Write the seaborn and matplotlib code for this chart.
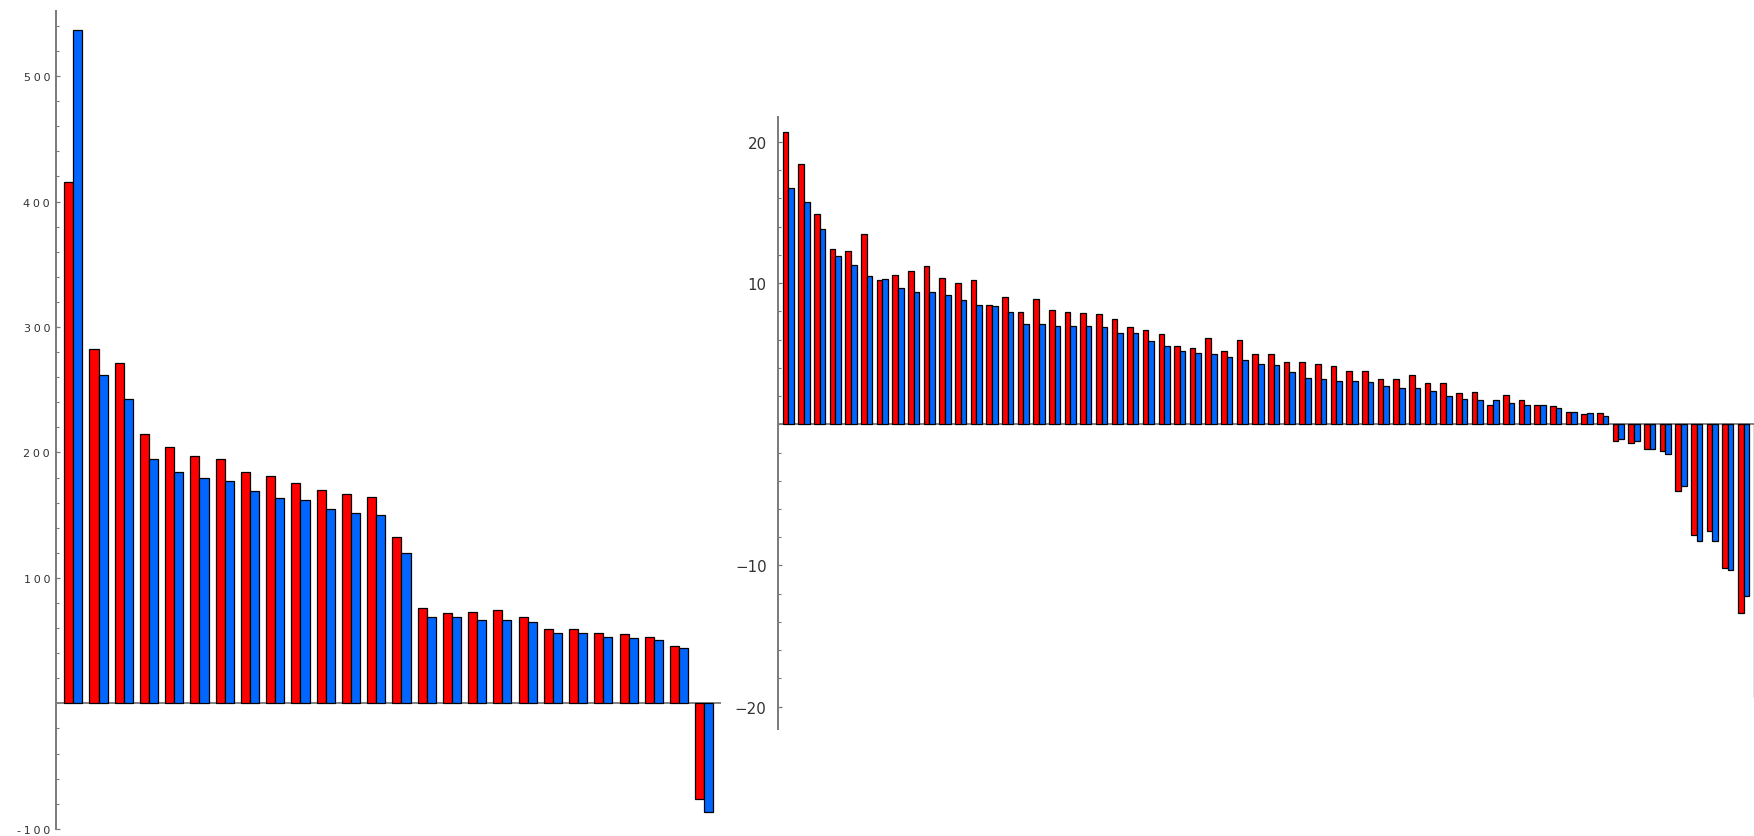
import matplotlib
matplotlib.use("Agg")
import matplotlib.pyplot as plt
from matplotlib.ticker import MultipleLocator, FixedLocator, FuncFormatter
import seaborn as sns
import pandas as pd

# ---------------- data ----------------
left_red = [415.5, 282.7, 271.0, 214.4, 204.3, 197.1, 194.7, 184.6, 180.9, 175.9,
            169.8, 166.6, 164.7, 132.3, 75.8, 72.2, 72.5, 74.1, 68.6, 59.2,
            59.4, 55.9, 55.0, 52.9, 45.4, -76.3]
left_blue = [536.7, 261.5, 242.3, 194.5, 184.1, 179.4, 177.2, 169.5, 163.4, 161.8,
             154.9, 151.9, 150.3, 119.6, 69.2, 68.6, 66.5, 66.2, 64.6, 56.1,
             55.9, 52.5, 51.7, 50.1, 43.8, -86.4]

right_red = [20.72, 18.41, 14.91, 12.39, 12.30, 13.50, 10.20, 10.60, 10.88, 11.21,
             10.38, 9.99, 10.20, 8.47, 8.99, 7.97, 8.87, 8.07, 7.97, 7.88,
             7.79, 7.48, 6.89, 6.68, 6.37, 5.57, 5.38, 6.10, 5.18, 6.00,
             5.00, 5.00, 4.39, 4.39, 4.29, 4.11, 3.80, 3.80, 3.19, 3.19,
             3.49, 2.90, 2.90, 2.20, 2.29, 1.39, 2.10, 1.70, 1.39, 1.30,
             0.87, 0.70, 0.78, -1.20, -1.32, -1.73, -1.91, -4.75, -7.86, -7.54,
             -10.16, -13.36, -19.3]
right_blue = [16.71, 15.72, 13.81, 11.92, 11.30, 10.50, 10.29, 9.68, 9.39, 9.39,
              9.18, 8.78, 8.47, 8.38, 7.97, 7.08, 7.08, 6.98, 6.98, 6.98,
              6.89, 6.49, 6.49, 5.88, 5.57, 5.17, 5.07, 4.98, 4.78, 4.58,
              4.29, 4.18, 3.68, 3.30, 3.19, 3.09, 3.09, 3.00, 2.69, 2.59,
              2.59, 2.38, 2.00, 1.79, 1.70, 1.70, 1.49, 1.39, 1.39, 1.18,
              0.87, 0.78, 0.59, -1.02, -1.20, -1.73, -2.12, -4.35, -8.24, -8.24,
              -10.34, -12.16, -20.0]

series_names = ["red", "blue"]
palette = {"red": "#ff0000", "blue": "#0066ff"}

left_major = [-100, 100, 200, 300, 400, 500]
right_major = [-20, -10, 10, 20]


def long_form(red, blue):
    n = len(red)
    cats = [str(i + 1) for i in range(n)]
    df = pd.DataFrame({
        "group": cats * 2,
        "value": list(red) + list(blue),
        "series": ["red"] * n + ["blue"] * n,
    })
    return df, cats


sns.set_theme(style="white")
plt.rcParams["font.family"] = ["DejaVu Sans"]

W, H = 1754, 837
fig = plt.figure(figsize=(W / 100, H / 100), dpi=100)
fig.patch.set_facecolor("white")

axis_gray = "#7a7a7a"
text_col = "#333333"


def px_axes(x0, x1, y_top, y_bot):
    return fig.add_axes([x0 / W, (H - y_bot) / H, (x1 - x0) / W, (y_bot - y_top) / H])


axL = px_axes(56.5, 721.0, 12.0, 830.4)
axR = px_axes(777.7, 1754.0, 118.3, 730.0)


def draw(ax, red, blue):
    df, cats = long_form(red, blue)
    sns.barplot(data=df, x="group", y="value", hue="series", order=cats,
                hue_order=series_names, palette=palette, width=0.72, gap=0,
                saturation=1, edgecolor="black", linewidth=0.9, legend=False,
                errorbar=None, ax=ax)
    ax.set_xlabel("")
    ax.set_ylabel("")
    ax.set_xticks([])
    for s in ["top", "right", "bottom"]:
        ax.spines[s].set_visible(False)
    ax.spines["left"].set_color(axis_gray)
    ax.spines["left"].set_linewidth(1.4)
    ax.axhline(0, color=axis_gray, lw=1.3, zorder=0.5)
    ax.set_facecolor("white")
    ax.grid(False)
    return len(cats)


def spaced(v, p):
    s = f"{int(v)}"
    return "\u2005".join(s)


nL = draw(axL, left_red, left_blue)
axL.set_xlim(-0.665, nL - 1 + 0.66)
axL.set_ylim(-100.5, 551.9)
axL.yaxis.set_major_locator(FixedLocator(left_major))
axL.yaxis.set_minor_locator(MultipleLocator(20))
axL.yaxis.set_major_formatter(FuncFormatter(spaced))
axL.tick_params(axis="y", which="major", direction="in", length=3.0, width=0.9,
                color=axis_gray, labelsize=8.0, labelcolor=text_col, pad=4.6, left=True)
axL.tick_params(axis="y", which="minor", direction="in", length=1.9, width=0.8,
                color=axis_gray, left=True)

nR = draw(axR, right_red, right_blue)
axR.set_xlim(-0.68, 61.67)
axR.set_ylim(-21.58, 21.74)
axR.yaxis.set_major_locator(FixedLocator(right_major))
axR.yaxis.set_minor_locator(MultipleLocator(2))
axR.yaxis.set_major_formatter(FuncFormatter(lambda v, p: f"{int(v)}".replace("-", "\u2212")))
axR.tick_params(axis="y", which="major", direction="in", length=3.0, width=0.9,
                color=axis_gray, labelsize=10.8, labelcolor=text_col, pad=8.0, left=True)
axR.tick_params(axis="y", which="minor", direction="in", length=1.9, width=0.8,
                color=axis_gray, left=True)

fig.savefig("out.png", dpi=100, facecolor="white")
